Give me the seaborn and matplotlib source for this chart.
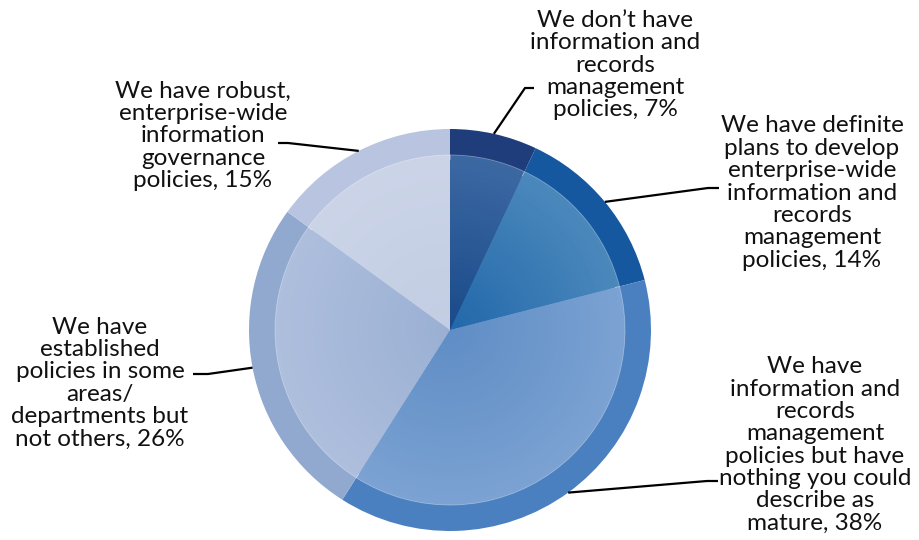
import numpy as np
import matplotlib
matplotlib.use("Agg")
import matplotlib.pyplot as plt
import seaborn as sns
from matplotlib.colors import to_rgb

# ---- data ----
categories = [
    "We don\u2019t have\ninformation and\nrecords\nmanagement\npolicies, 7%",
    "We have definite\nplans to develop\nenterprise-wide\ninformation and\nrecords\nmanagement\npolicies, 14%",
    "We have\ninformation and\nrecords\nmanagement\npolicies but have\nnothing you could\ndescribe as\nmature, 38%",
    "We have\nestablished\npolicies in some\nareas/\ndepartments but\nnot others, 26%",
    "We have robust,\nenterprise-wide\ninformation\ngovernance\npolicies, 15%",
]
values = [7, 14, 38, 26, 15]

outer_colors = ["#1F3C7B", "#1558A0", "#4A80C0", "#91A8CF", "#B9C5E0"]
inner_edge_colors = ["#3C68A2", "#4A88BC", "#7BA2D2", "#AEBEDD", "#CBD4E7"]
inner_center_colors = ["#1A4A8A", "#2368AA", "#5F8DC5", "#9AB0D3", "#C2CDE3"]

# ---- layout (pixel coords, y measured from top) ----
W, H = 920, 540
cx, cy_top = 450, 330
R_out, R_in = 201, 175
label_xy = [(615, 65), (812, 193), (815, 445), (100, 383), (203, 136)]
elbow_xy = [(525, 88), (708, 188), (707, 481), (208, 374), (288, 143)]
end_xy = [(534, 88), (719, 188), (718, 481), (193, 374), (278, 143)]

sns.set_theme(style="white")
plt.rcParams["font.family"] = ["Lato", "DejaVu Sans"]

fig = plt.figure(figsize=(W / 100, H / 100), dpi=100)
ax = fig.add_axes([0, 0, 1, 1])

Y = lambda y: H - y
center = (cx, Y(cy_top))

# outer ring
ax.pie(values, colors=outer_colors, startangle=90, counterclock=False,
       radius=R_out, center=center, frame=True,
       wedgeprops=dict(linewidth=0))

# inner gradient disc
n_layers = 36
for i in range(n_layers):
    t = i / (n_layers - 1)
    r = R_in * (1 - i / n_layers)
    cols = [tuple(np.array(to_rgb(e)) * (1 - t) + np.array(to_rgb(c)) * t)
            for e, c in zip(inner_edge_colors, inner_center_colors)]
    ax.pie(values, colors=cols, startangle=90, counterclock=False,
           radius=r, center=center, frame=True,
           wedgeprops=dict(linewidth=0.6 if i == 0 else 0,
                           edgecolor=(1, 1, 1, 0.35)))

ax.set_xlim(0, W)
ax.set_ylim(0, H)
ax.set_aspect("equal")
ax.axis("off")

# labels and leader lines
cum = np.cumsum([0] + values[:-1])
total = sum(values)
for k, (lab, v) in enumerate(zip(categories, values)):
    theta = np.deg2rad(90 - 360 * (cum[k] + v / 2) / total)
    sx = center[0] + R_out * np.cos(theta)
    sy = center[1] + R_out * np.sin(theta)
    ex, ey = elbow_xy[k]
    tx, ty = end_xy[k]
    ax.plot([sx, ex, tx], [sy, Y(ey), Y(ty)], color="black", lw=1.6,
            solid_capstyle="butt", zorder=5)
    lx, ly = label_xy[k]
    ax.text(lx, Y(ly), lab, ha="center", va="center", multialignment="center",
            fontsize=17.5, color="#111111", linespacing=1.08)

fig.savefig("out.png", dpi=100)
